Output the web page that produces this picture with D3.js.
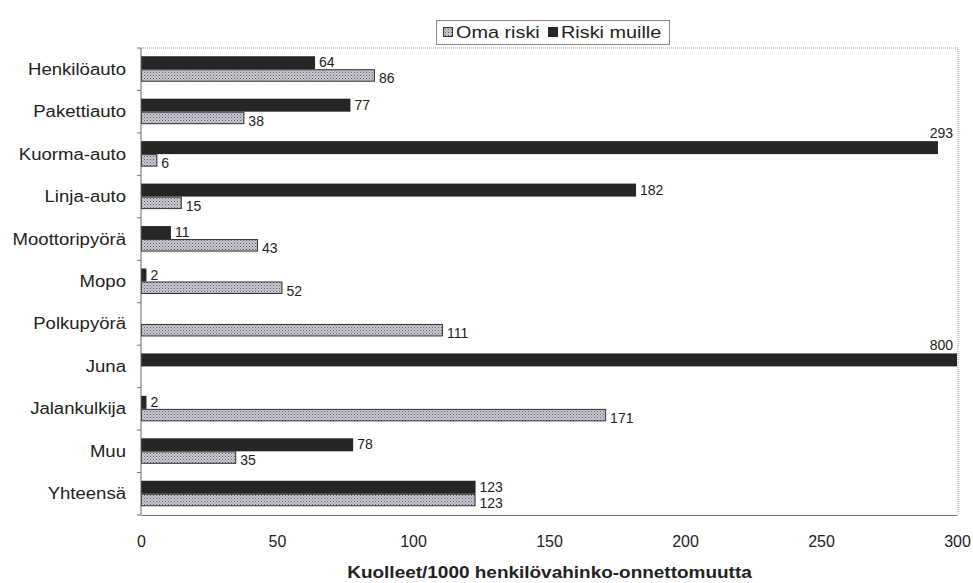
<!DOCTYPE html>
<html>
<head>
<meta charset="utf-8">
<script src="https://cdnjs.cloudflare.com/ajax/libs/d3/7.8.5/d3.min.js"></script>
<style>
  html, body { margin: 0; padding: 0; background: #fff; }
  svg { display: block; font-family: "Liberation Sans", Arial, sans-serif; }
</style>
</head>
<body>
<div id="chart"></div>
<script>
// Vehicle categories, top to bottom
const categories = ["Henkilöauto", "Pakettiauto", "Kuorma-auto", "Linja-auto", "Moottoripyörä",
  "Mopo", "Polkupyörä", "Juna", "Jalankulkija", "Muu", "Yhteensä"];
// Deaths per 1000 injury accidents: risk to others (dark) and own risk (stippled)
const riskiMuille = [64, 77, 293, 182, 11, 2, null, 800, 2, 78, 123];
const omaRiski = [86, 38, 6, 15, 43, 52, 111, null, 171, 35, 123];
const xTicks = [0, 50, 100, 150, 200, 250, 300];
const legendLabels = ["Oma riski", "Riski muille"];
const xTitle = "Kuolleet/1000 henkilövahinko-onnettomuutta";

const W = 973, H = 583;
const plot = { left: 141, right: 957, top: 48, bottom: 515 };

const svg = d3.select("#chart").append("svg").attr("width", W).attr("height", H);

// Stippled fill used for the own-risk bars
const defs = svg.append("defs");
const pat = defs.append("pattern").attr("id", "stipple")
  .attr("width", 3).attr("height", 3).attr("patternUnits", "userSpaceOnUse");
pat.append("rect").attr("width", 3).attr("height", 3).attr("fill", "#c9c9d3");
pat.append("rect").attr("x", 0).attr("y", 0).attr("width", 1).attr("height", 1).attr("fill", "#5e5e6a");
pat.append("rect").attr("x", 1.5).attr("y", 1.5).attr("width", 1).attr("height", 1).attr("fill", "#7a7a86");

const x = d3.scaleLinear().domain([0, 300]).range([plot.left, plot.right]).clamp(true);
const y = d3.scaleBand().domain(categories).range([plot.top, plot.bottom]);

// Horizontally widened text, placed with a transform
function wideText(parent, tx, ty, sx, str) {
  return parent.append("text")
    .attr("transform", `translate(${tx},${ty}) scale(${sx},1)`)
    .text(str);
}

// Frame: dotted top and right edges
svg.append("path")
  .attr("d", `M${plot.left},${plot.top}H${plot.right + 1}V${plot.bottom}`)
  .attr("fill", "none").attr("stroke", "#999").attr("stroke-width", 1)
  .attr("stroke-dasharray", "1,1");

const dark = "#262628";
const textCol = "#222";
const barH1 = 13, barH2 = 12.5;

const rows = categories.map((c, i) => ({ c, muille: riskiMuille[i], oma: omaRiski[i] }));

const g = svg.append("g");

// Risk to others (dark bars, upper)
g.selectAll("rect.muille").data(rows.filter(d => d.muille != null)).join("rect")
  .attr("class", "muille")
  .attr("x", x(0))
  .attr("y", d => y(d.c) + y.bandwidth() / 2 - barH1)
  .attr("width", d => x(d.muille) - x(0))
  .attr("height", barH1)
  .attr("fill", dark);

// Own risk (stippled bars, lower)
g.selectAll("rect.oma").data(rows.filter(d => d.oma != null)).join("rect")
  .attr("class", "oma")
  .attr("x", x(0) + 0.5)
  .attr("y", d => y(d.c) + y.bandwidth() / 2 + 0.5)
  .attr("width", d => x(d.oma) - x(0) - 1)
  .attr("height", barH2 - 1)
  .attr("fill", "url(#stipple)")
  .attr("stroke", "#333").attr("stroke-width", 1);

// Value labels
const labelSize = 14;
function addLabel(v, barTop, baseline) {
  const t = g.append("text").text(v).attr("font-size", labelSize).attr("fill", textCol);
  const w = t.node().getComputedTextLength();
  const xe = x(v) + 4;
  if (xe + w > plot.right - 2) {
    t.attr("x", plot.right - 4).attr("y", barTop - 3).attr("text-anchor", "end");
  } else {
    t.attr("x", xe).attr("y", baseline);
  }
}
rows.forEach(d => {
  const c = y(d.c) + y.bandwidth() / 2;
  if (d.muille != null) addLabel(d.muille, c - barH1, c - 2);
  if (d.oma != null) addLabel(d.oma, c, c + barH2 + 1.5);
});

// Category axis
const yAxis = svg.append("g").attr("transform", `translate(${plot.left},0)`);
yAxis.append("line").attr("x1", 0).attr("x2", 0).attr("y1", plot.top).attr("y2", plot.bottom)
  .attr("stroke", "#666");
yAxis.selectAll("line.tick").data(d3.range(categories.length + 1)).join("line")
  .attr("class", "tick")
  .attr("x1", -4).attr("x2", 0)
  .attr("y1", i => plot.top + i * y.step()).attr("y2", i => plot.top + i * y.step())
  .attr("stroke", "#777");
categories.forEach(c => {
  wideText(yAxis, -15, y(c) + y.bandwidth() / 2 + 5.5, 1.16, c)
    .attr("text-anchor", "end").attr("font-size", 16).attr("fill", textCol);
});

// Value axis
const xAxis = svg.append("g").attr("transform", `translate(0,${plot.bottom})`)
  .call(d3.axisBottom(x).tickValues(xTicks).tickSize(0).tickPadding(21));
xAxis.select(".domain").attr("stroke", "#777");
xAxis.selectAll("text").attr("font-size", 16).attr("fill", textCol)
  .attr("font-family", "Liberation Sans, Arial, sans-serif");

wideText(svg, 549.5, 578, 1.15, xTitle)
  .attr("text-anchor", "middle")
  .attr("font-size", 16.5).attr("font-weight", "bold").attr("fill", textCol);

// Legend
const lg = svg.append("g").attr("transform", "translate(436,20)");
lg.append("rect").attr("x", 0.5).attr("y", 0.5).attr("width", 233).attr("height", 24)
  .attr("fill", "#fff").attr("stroke", "#888");
const items = [
  { label: legendLabels[0], fill: "url(#stipple)", stroke: "#333", x: 7 },
  { label: legendLabels[1], fill: dark, stroke: dark, x: 112 }
];
items.forEach(it => {
  lg.append("rect").attr("x", it.x + 0.5).attr("y", 7.5).attr("width", 9).attr("height", 9)
    .attr("fill", it.fill).attr("stroke", it.stroke);
  wideText(lg, it.x + 13, 18, 1.24, it.label)
    .attr("font-size", 16).attr("fill", textCol);
});
</script>
</body>
</html>
